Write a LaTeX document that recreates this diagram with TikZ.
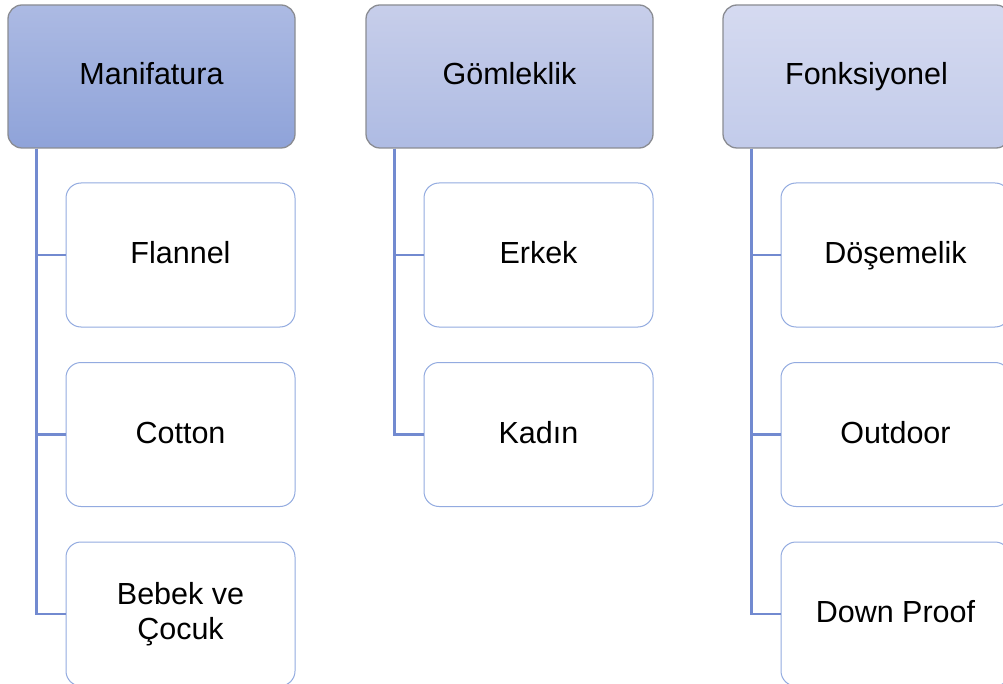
\documentclass[tikz,border=0pt]{standalone}
\usepackage{fontspec}
\setmainfont{Liberation Sans}
\definecolor{hbord}{HTML}{8A8C92}
\definecolor{cbord}{HTML}{93ABE0}
\definecolor{conn}{HTML}{728AD0}
\definecolor{hAtop}{HTML}{ACBAE3}
\definecolor{hAbot}{HTML}{8FA3D9}
\definecolor{hBtop}{HTML}{C7CEEA}
\definecolor{hBbot}{HTML}{AEBBE3}
\definecolor{hCtop}{HTML}{D5DAF0}
\definecolor{hCbot}{HTML}{C2CBEA}
\tikzset{
  x=1pt,y=-1pt,
  headbox/.style={draw=hbord,line width=1.3pt,rounded corners=14pt,minimum width=287pt,minimum height=143pt,font=\fontsize{30.5}{35}\selectfont,align=center,inner sep=0pt,text height=22.5pt,text depth=5.5pt},
  childbase/.style={draw=cbord,line width=1pt,rounded corners=15pt,minimum width=229pt,minimum height=144pt,font=\fontsize{30.5}{35}\selectfont,align=center,inner sep=0pt,fill=white},
  childbox/.style={childbase,text height=22.5pt,text depth=5.5pt},
  link/.style={draw=conn,line width=2.6pt}
}
\begin{document}
\begin{tikzpicture}
\useasboundingbox (0,0) rectangle (1003,684);
\node[headbox,top color=hAtop,bottom color=hAbot] (h1) at (151.5,76.5) {Manifatura};
\node[headbox,top color=hBtop,bottom color=hBbot] (h2) at (509.5,76.5) {Gömleklik};
\node[headbox,top color=hCtop,bottom color=hCbot] (h3) at (866.5,76.5) {Fonksiyonel};
% column 1
\node[childbox] (a1) at (180.5,255) {Flannel};
\node[childbox] (a2) at (180.5,434.5) {Cotton};
\node[childbase] (a3) at (180.5,614) {Bebek ve\\Çocuk};
% column 2
\node[childbox] (b1) at (538.5,255) {Erkek};
\node[childbox] (b2) at (538.5,434.5) {Kadın};
% column 3
\node[childbox] (c1) at (895.5,255) {Döşemelik};
\node[childbox] (c2) at (895.5,434.5) {Outdoor};
\node[childbox] (c3) at (895.5,614) {Down Proof};
% connectors
\coordinate (p1) at ([xshift=29pt]h1.south west);
\coordinate (p2) at ([xshift=29pt]h2.south west);
\coordinate (p3) at ([xshift=29pt]h3.south west);
\draw[link] (p1) |- (a3.west);
\draw[link] (p1) |- (a1.west);
\draw[link] (p1) |- (a2.west);
\draw[link] (p2) |- (b2.west);
\draw[link] (p2) |- (b1.west);
\draw[link] (p3) |- (c3.west);
\draw[link] (p3) |- (c1.west);
\draw[link] (p3) |- (c2.west);
\end{tikzpicture}
\end{document}
